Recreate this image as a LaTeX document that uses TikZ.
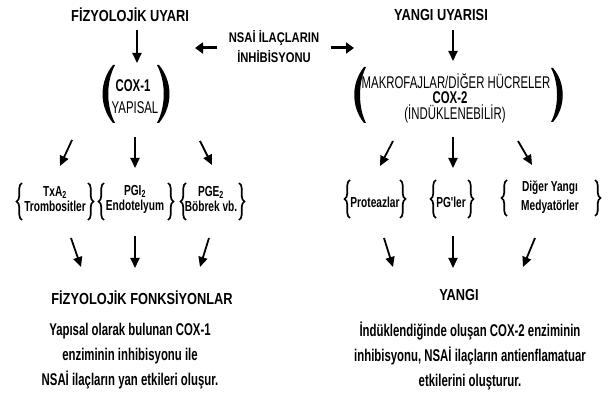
\documentclass[tikz,border=0pt]{standalone}
\usepackage{fontspec}
\setmainfont{Liberation Sans}[FakeStretch=0.8]
\newfontfamily\fhdr{Liberation Sans}[FakeStretch=0.8]
\newfontfamily\fnar{Liberation Sans}[FakeStretch=0.67]
\newfontfamily\fbr{Liberation Sans}[FakeStretch=0.7]
\usetikzlibrary{arrows.meta,decorations.pathreplacing}
\tikzset{
  hdr/.style={font=\fhdr\fontsize{16}{18}\selectfont\bfseries, inner sep=0pt},
  reg/.style={font=\fnar\fontsize{17}{18}\selectfont, inner sep=0pt},
  cox/.style={font=\fnar\fontsize{17}{18}\selectfont\bfseries, inner sep=0pt},
  sm/.style={font=\fbr\fontsize{14.5}{15}\selectfont\bfseries, inner sep=0pt, align=center},
  smw/.style={font=\fbr\fontsize{14.5}{19}\selectfont\bfseries, inner sep=0pt, align=center},
  para/.style={font=\fnar\fontsize{17}{25}\selectfont\bfseries, inner sep=0pt, align=center},
  varr/.style={line width=1.8pt, -{Triangle[length=10pt,width=9pt]}},
  harr/.style={line width=3pt, -{Triangle[length=8pt,width=11pt]}},
  brc/.style={decorate, decoration={brace, amplitude=5.5pt}, line width=1.7pt}
}
\begin{document}
\begin{tikzpicture}[x=1pt,y=-1pt]
\useasboundingbox (0,0) rectangle (610,395);
% headers
\node[hdr] (fu) at (130,15) {FİZYOLOJİK UYARI};
\node[hdr] (yu) at (441,15) {YANGI UYARISI};
\node[hdr, align=center, font=\fhdr\fontsize{14}{20}\selectfont\bfseries] (nsai) at (274,47) {NSAİ İLAÇLARIN\\İNHİBİSYONU};
% horizontal arrows
\coordinate (hl1) at (217,48); \coordinate (hl2) at (195,48);
\coordinate (hr1) at (331,48); \coordinate (hr2) at (354,48);
\draw[harr] (hl1) -- (hl2);
\draw[harr] (hr1) -- (hr2);
% top vertical arrows
\coordinate (a1s) at (137,30); \coordinate (a1e) at (137,63);
\coordinate (a2s) at (453,30); \coordinate (a2e) at (453,61);
\draw[varr] (a1s) -- (a1e);
\draw[varr] (a2s) -- (a2e);
% COX-1 group
\node[cox] (cox1) at (133,86) {COX-1};
\node[reg] (yap) at (135,108) {YAPISAL};
\fill (113,65) .. controls (99,82) and (99,106) .. (113,123) -- (115,123) .. controls (106,106) and (106,82) .. (115,65) -- cycle;
\fill (159,65) .. controls (173,82) and (173,106) .. (159,123) -- (157,123) .. controls (166,106) and (166,82) .. (157,65) -- cycle;
% COX-2 group
\node[reg] (mak) at (456,81) {MAKROFAJLAR/DİĞER HÜCRELER};
\node[cox] (cox2) at (450,98) {COX-2};
\node[reg] (ind) at (455,114) {(İNDÜKLENEBİLİR)};
\fill (364,67) .. controls (351,83) and (351,107) .. (364,123) -- (366,123) .. controls (358,107) and (358,83) .. (366,67) -- cycle;
\fill (553,68) .. controls (566,83) and (566,107) .. (553,122) -- (551,122) .. controls (559,107) and (559,83) .. (551,68) -- cycle;
% second row arrows
\coordinate (b1s) at (72,140); \coordinate (b1e) at (60,166);
\coordinate (b2s) at (135,137); \coordinate (b2e) at (135,168);
\coordinate (b3s) at (200,141); \coordinate (b3e) at (212,165);
\coordinate (b4s) at (393,141); \coordinate (b4e) at (380,166);
\coordinate (b5s) at (453,137); \coordinate (b5e) at (453,168);
\coordinate (b6s) at (518,141); \coordinate (b6e) at (532,165);
\foreach \s/\e in {b1s/b1e,b2s/b2e,b3s/b3e,b4s/b4e,b5s/b5e,b6s/b6e} \draw[varr] (\s) -- (\e);
% braces left
\node[sm] (txa) at (55,199) {TxA\textsubscript{2}\\Trombositler};
\node[sm] (pgi) at (135,199) {PGI\textsubscript{2}\\Endotelyum};
\node[sm] (pge) at (211,199) {PGE\textsubscript{2}\\Böbrek vb.};
\draw[brc] (22,220) -- (22,183);
\draw[brc] (88,183) -- (88,220);
\draw[brc] (104,220) -- (104,183);
\draw[brc] (168,183) -- (168,220);
\draw[brc] (186,220) -- (186,183);
\draw[brc] (239,183) -- (239,220);
% braces right
\node[sm] (pro) at (375,202) {Proteazlar};
\node[sm] (pgl) at (451,202) {PG'ler};
\node[smw] (dig) at (550,197) {Diğer Yangı\\Medyatörler};
\draw[brc] (350,218) -- (350,180);
\draw[brc] (400,180) -- (400,218);
\draw[brc] (436,218) -- (436,180);
\draw[brc] (468,180) -- (468,218);
\draw[brc] (507,216) -- (507,180);
\draw[brc] (595,180) -- (595,216);
% third row arrows
\coordinate (c1s) at (71,238); \coordinate (c1e) at (81,267);
\coordinate (c2s) at (135,236); \coordinate (c2e) at (135,268);
\coordinate (c3s) at (209,238); \coordinate (c3e) at (200,267);
\coordinate (c4s) at (384,238); \coordinate (c4e) at (393,267);
\coordinate (c5s) at (453,236); \coordinate (c5e) at (453,268);
\coordinate (c6s) at (535,238); \coordinate (c6e) at (523,267);
\foreach \s/\e in {c1s/c1e,c2s/c2e,c3s/c3e,c4s/c4e,c5s/c5e,c6s/c6e} \draw[varr] (\s) -- (\e);
% bottom
\node[hdr] (ff) at (142,298) {FİZYOLOJİK FONKSİYONLAR};
\node[hdr] (yg) at (459,295) {YANGI};
\node[para] (lp) at (130,356) {Yapısal olarak bulunan COX-1\\enziminin inhibisyonu ile\\NSAİ ilaçların yan etkileri oluşur.};
\node[para] (rp) at (470,356) {İndüklendiğinde oluşan COX-2 enziminin\\inhibisyonu, NSAİ ilaçların antienflamatuar\\etkilerini oluşturur.};
\end{tikzpicture}
\end{document}
